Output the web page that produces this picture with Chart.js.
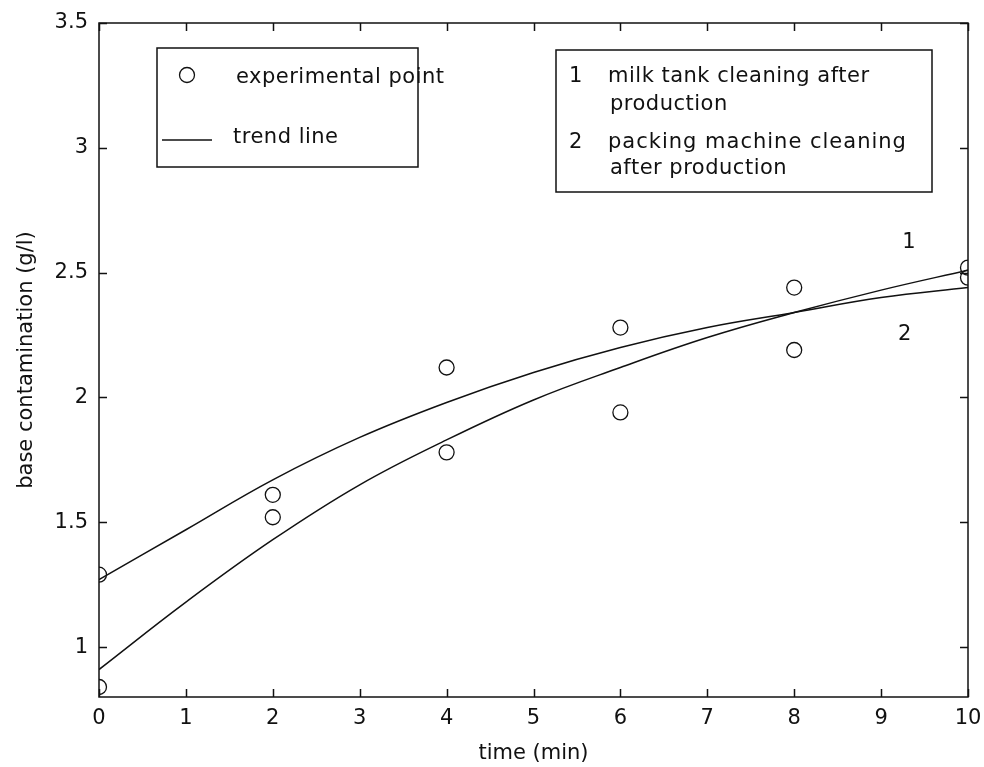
<!DOCTYPE html>
<html>
<head>
<meta charset="utf-8">
<script src="https://cdn.jsdelivr.net/npm/chart.js@4/dist/chart.umd.min.js"></script>
<style>
  html, body { margin: 0; padding: 0; background: #fff; }
  #wrap { width: 984px; height: 767px; position: relative; }
</style>
</head>
<body>
<div id="wrap"><canvas id="chart"></canvas></div>
<script>
// measured points (two runs per time)
const pointTime = [0, 0, 2, 2, 4, 4, 6, 6, 8, 8, 10, 10]
const pointValue = [1.29, 0.84, 1.61, 1.52, 2.12, 1.78, 2.28, 1.94, 2.44, 2.19, 2.52, 2.48]

// trend lines
const trendTime = [0, 1, 2, 3, 4, 5, 6, 7, 8, 9, 10]
const trend1 = [0.91, 1.18, 1.43, 1.65, 1.83, 1.99, 2.12, 2.24, 2.34, 2.43, 2.51]
const trend2 = [1.27, 1.47, 1.67, 1.84, 1.98, 2.10, 2.20, 2.28, 2.34, 2.40, 2.44]

const xTicks = [0, 1, 2, 3, 4, 5, 6, 7, 8, 9, 10]
const yTicks = [1, 1.5, 2, 2.5, 3, 3.5]

const curveLabels = [
  { text: '1', x: 9.32, y: 2.62 },
  { text: '2', x: 9.27, y: 2.25 },
]

const FONT = 'DejaVu Sans, Arial, sans-serif'
const INK = '#111'

const toXY = (xs, ys) => xs.map((x, i) => ({ x, y: ys[i] }))

const frame = {
  id: 'frame',
  afterDraw(chart) {
    const { ctx, chartArea: a, scales: { x, y } } = chart
    ctx.save()
    ctx.strokeStyle = INK
    ctx.lineWidth = 1.5
    ctx.strokeRect(a.left, a.top, a.right - a.left, a.bottom - a.top)
    // inward ticks on all four sides
    const tl = 8
    ctx.beginPath()
    xTicks.forEach(v => {
      const px = Math.round(x.getPixelForValue(v)) + 0.5
      ctx.moveTo(px, a.bottom); ctx.lineTo(px, a.bottom - tl)
      ctx.moveTo(px, a.top); ctx.lineTo(px, a.top + tl)
    })
    yTicks.forEach(v => {
      const py = Math.round(y.getPixelForValue(v)) + 0.5
      ctx.moveTo(a.left, py); ctx.lineTo(a.left + tl, py)
      ctx.moveTo(a.right, py); ctx.lineTo(a.right - tl, py)
    })
    ctx.stroke()

    // curve numbers
    ctx.fillStyle = INK
    ctx.font = '21px ' + FONT
    ctx.textAlign = 'center'
    ctx.textBaseline = 'middle'
    curveLabels.forEach(l => ctx.fillText(l.text, x.getPixelForValue(l.x), y.getPixelForValue(l.y)))

    // left legend box
    ctx.fillStyle = '#fff'
    ctx.fillRect(157, 48, 261, 119)
    ctx.strokeRect(157, 48, 261, 119)
    ctx.beginPath()
    ctx.arc(187, 75, 7.5, 0, Math.PI * 2)
    ctx.lineWidth = 1.3
    ctx.stroke()
    ctx.beginPath()
    ctx.moveTo(162, 140); ctx.lineTo(212, 140)
    ctx.lineWidth = 1.5
    ctx.stroke()
    ctx.fillStyle = INK
    ctx.textAlign = 'left'
    ctx.textBaseline = 'alphabetic'
    ctx.letterSpacing = '0.5px'
    ctx.fillText('experimental point', 236, 83)
    ctx.fillText('trend line', 233, 143)

    // right legend box
    ctx.fillStyle = '#fff'
    ctx.fillRect(556, 50, 376, 142)
    ctx.strokeRect(556, 50, 376, 142)
    ctx.fillStyle = INK
    ctx.fillText('1', 569, 82)
    ctx.fillText('milk tank cleaning after', 608, 82)
    ctx.fillText('production', 610, 110)
    ctx.fillText('2', 569, 148)
    ctx.letterSpacing = '1px'
    ctx.fillText('packing machine cleaning', 608, 148)
    ctx.letterSpacing = '0.5px'
    ctx.fillText('after production', 610, 174)
    ctx.restore()
  }
}

new Chart(document.getElementById('chart'), {
  type: 'scatter',
  data: {
    datasets: [
      {
        label: 'experimental point',
        data: toXY(pointTime, pointValue),
        showLine: false,
        pointStyle: 'circle',
        pointRadius: 7.5,
        pointBorderWidth: 1.3,
        pointBorderColor: INK,
        pointBackgroundColor: 'rgba(0,0,0,0)',
      },
      {
        label: '1',
        data: toXY(trendTime, trend1),
        showLine: true,
        borderColor: INK,
        borderWidth: 1.5,
        pointRadius: 0,
        tension: 0.4,
      },
      {
        label: '2',
        data: toXY(trendTime, trend2),
        showLine: true,
        borderColor: INK,
        borderWidth: 1.5,
        pointRadius: 0,
        tension: 0.4,
      },
    ]
  },
  options: {
    responsive: true,
    maintainAspectRatio: false,
    animation: false,
    events: [],
    layout: { padding: { top: 23, right: 16, left: 0, bottom: 0 } },
    plugins: { legend: { display: false }, tooltip: { enabled: false } },
    scales: {
      x: {
        type: 'linear',
        min: 0, max: 10,
        afterBuildTicks: s => { s.ticks = xTicks.map(v => ({ value: v })) },
        afterFit: s => { s.height = 70; s.paddingLeft = 0; s.paddingRight = 0 },
        grid: { display: false, drawTicks: false },
        border: { display: false },
        ticks: { color: INK, font: { family: FONT, size: 21 }, padding: 9, maxRotation: 0, autoSkip: false },
        title: { display: true, text: 'time (min)', color: INK, font: { family: FONT, size: 21 }, padding: { top: 0, bottom: 1 } },
      },
      y: {
        type: 'linear',
        min: 0.8, max: 3.5,
        afterBuildTicks: s => { s.ticks = yTicks.map(v => ({ value: v })) },
        afterFit: s => { s.width = 99; s.paddingTop = 0; s.paddingBottom = 0 },
        grid: { display: false, drawTicks: false },
        border: { display: false },
        ticks: { color: INK, font: { family: FONT, size: 21 }, padding: 11, autoSkip: false, callback: v => String(v) },
        title: { display: true, text: 'base contamination (g/l)', color: INK, font: { family: FONT, size: 21 }, padding: { top: 14, bottom: 0 } },
      }
    }
  },
  plugins: [frame]
})
</script>
</body>
</html>
